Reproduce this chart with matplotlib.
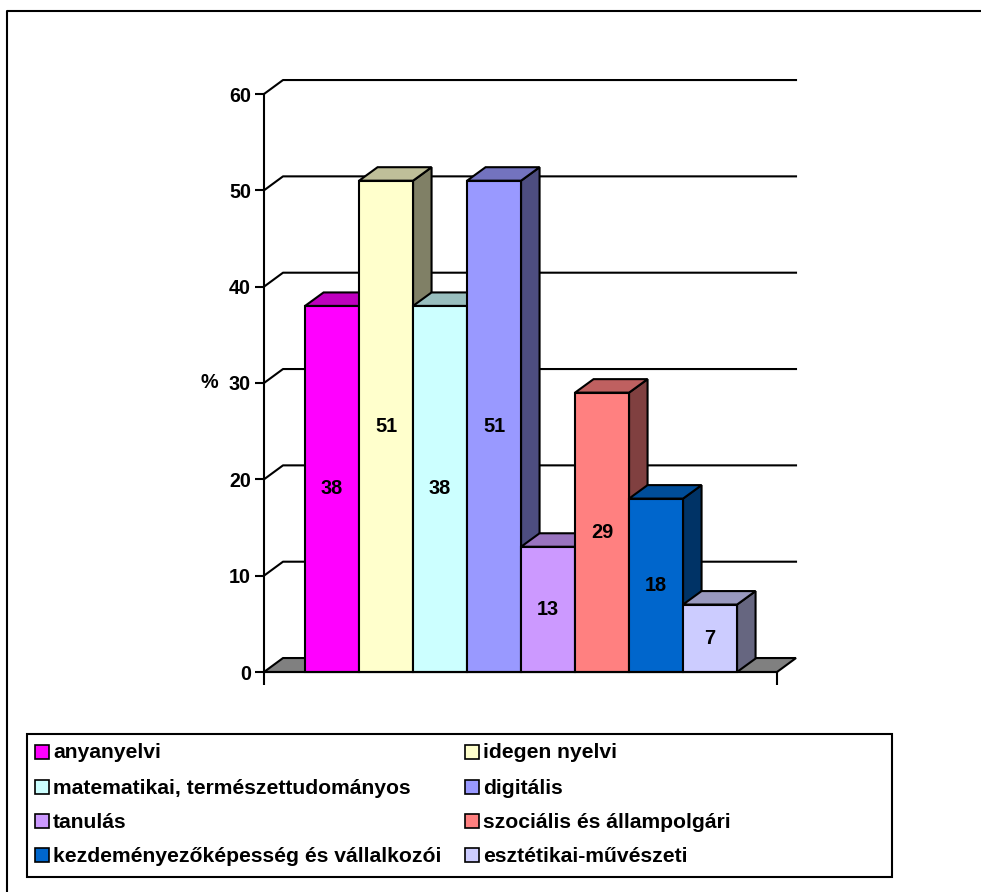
import matplotlib
matplotlib.use('Agg')
import numpy as np
from matplotlib import pyplot as plt
from matplotlib.patches import Polygon, Rectangle
from matplotlib.lines import Line2D
from matplotlib.colors import to_rgb

plt.rcParams['font.family'] = ['Liberation Sans', 'DejaVu Sans']
plt.rcParams['font.weight'] = 'bold'

categories = ['anyanyelvi', 'idegen nyelvi', 'matematikai, természettudományos', 'digitális',
              'tanulás', 'szociális és állampolgári', 'kezdeményezőképesség és vállalkozói',
              'esztétikai-művészeti']
values = [38, 51, 38, 51, 13, 29, 18, 7]
colors = ['#FF00FF', '#FFFFCC', '#CCFFFF', '#9999FF', '#CC99FF', '#FF8080', '#0066CC', '#CCCCFF']
y_ticks = [0, 10, 20, 30, 40, 50, 60]

W, H = 981, 892
FS_TICK = 14.2
FS_VAL = 14.4
FS_LEG = 15.2


def shade(c, f):
    r, g, b = to_rgb(c)
    return (r * f, g * f, b * f)


def px(x, y):
    return x / W, 1 - y / H


fig = plt.figure(figsize=(W / 100, H / 100), dpi=100)
fig.patch.set_facecolor('white')

# front plane of the plot area
left, top = px(264, 94)
right, bottom = px(777, 672)
ax = fig.add_axes([left, bottom, right - left, top - bottom])
ax.set_facecolor('none')

x0, x1 = -0.76, len(values) + 0.74
ax.set_xlim(x0, x1)
ax.set_ylim(0, 60)

# depth offsets (data units)
wdx, wdy = 0.352, 1.45
bdx, bdy = 0.343, 1.40

lw = 1.5

# back wall gridlines
for v in y_ticks[1:]:
    ax.add_line(Line2D([x0, x0 + wdx, x1 + wdx], [v, v + wdy, v + wdy],
                       color='black', lw=lw, clip_on=False, zorder=1))

# floor
floor = Polygon([[x0, 0], [x0 + wdx, wdy], [x1 + wdx, wdy], [x1, 0]], closed=True,
                facecolor='#808080', edgecolor='black', lw=lw, clip_on=False, zorder=1.2)
ax.add_patch(floor)

# bars
for i, (v, c) in enumerate(zip(values, colors)):
    xl, xr = i, i + 1
    z = 2 + i * 0.01
    front = Polygon([[xl, 0], [xr, 0], [xr, v], [xl, v]], closed=True,
                    facecolor=c, edgecolor='black', lw=lw, joinstyle='miter', zorder=z, clip_on=False)
    topf = Polygon([[xl, v], [xr, v], [xr + bdx, v + bdy], [xl + bdx, v + bdy]], closed=True,
                   facecolor=shade(c, 0.75), edgecolor='black', lw=lw, joinstyle='miter', zorder=z, clip_on=False)
    side = Polygon([[xr, 0], [xr + bdx, bdy], [xr + bdx, v + bdy], [xr, v]], closed=True,
                   facecolor=shade(c, 0.5), edgecolor='black', lw=lw, joinstyle='miter', zorder=z, clip_on=False)
    ax.add_patch(side)
    ax.add_patch(topf)
    ax.add_patch(front)
    ax.text(i + 0.5, v / 2, str(v), ha='center', va='center', fontsize=FS_VAL,
            fontweight='bold', color='black', zorder=5)

for s in ['top', 'right']:
    ax.spines[s].set_visible(False)
for s in ['left', 'bottom']:
    ax.spines[s].set_linewidth(lw)
    ax.spines[s].set_zorder(3)

ax.set_yticks(y_ticks)
ax.set_yticklabels([str(t) for t in y_ticks], fontsize=FS_TICK, fontweight='bold')
ax.tick_params(axis='y', direction='out', length=6.5, width=lw, pad=3)
ax.set_xticks([x0, x1])
ax.set_xticklabels([])
ax.tick_params(axis='x', direction='out', length=9.4, width=lw)
ax.set_ylabel('%', rotation=0, fontsize=FS_TICK, fontweight='bold', labelpad=14, va='center')

# legend box
lx0, ly0 = px(27, 734)
lx1, ly1 = px(892, 877)
fig.add_artist(Rectangle((lx0, ly1), lx1 - lx0, ly0 - ly1, transform=fig.transFigure,
                         facecolor='white', edgecolor='black', lw=lw))
row_y = [752, 787, 821, 855]
col_x = [35, 465]
for k, (name, c) in enumerate(zip(categories, colors)):
    r, col = k // 2, k % 2
    mx, my = col_x[col], row_y[r]
    a, b = px(mx, my + 7)
    fig.add_artist(Rectangle((a, b), 14 / W, 14 / H, transform=fig.transFigure,
                             facecolor=c, edgecolor='black', lw=1.2))
    tx, ty = px(mx + 18, my + 1)
    fig.text(tx, ty, name, ha='left', va='center', fontsize=FS_LEG, fontweight='bold')

# outer chart border (top and left edges visible)
bx, by = px(7, 11)
fig.add_artist(Line2D([bx, bx, 1.01], [-0.01, by, by], transform=fig.transFigure,
                      color='black', lw=lw))

fig.savefig('out.png', dpi=100, facecolor='white')
